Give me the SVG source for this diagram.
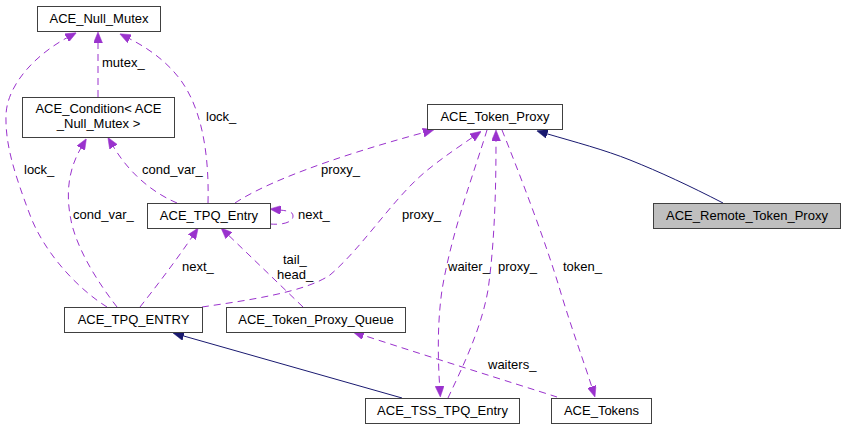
<svg xmlns="http://www.w3.org/2000/svg" width="845" height="429" viewBox="0 0 845 429">
<style>
  .node rect { fill: #ffffff; stroke: #404040; stroke-width: 1; }
  .node.cur rect { fill: #bfbfbf; }
  text { font-family: "Liberation Sans", Arial, sans-serif; font-size: 13px; fill: #000000; }
  .node text { text-anchor: middle; }
  .use { fill: none; stroke: #9a32cd; stroke-width: 1; stroke-dasharray: 7,5; marker-end: url(#ap); }
  .inh { fill: none; stroke: #191970; stroke-width: 1; marker-end: url(#an); }
</style>
<defs>
  <marker id="ap" viewBox="0 0 11 9" refX="1" refY="4.5" markerWidth="11" markerHeight="9" markerUnits="userSpaceOnUse" orient="auto">
    <path d="M0,0 L11,4.5 L0,9 Z" fill="#9a32cd" stroke="#9a32cd" stroke-width="0.5"/>
  </marker>
  <marker id="an" viewBox="0 0 11 9" refX="1" refY="4.5" markerWidth="11" markerHeight="9" markerUnits="userSpaceOnUse" orient="auto">
    <path d="M0,0 L11,4.5 L0,9 Z" fill="#191970" stroke="#191970" stroke-width="0.5"/>
  </marker>
</defs>
<rect x="0" y="0" width="845" height="429" fill="#ffffff"/>

<g id="edges">
  <path class="use" d="M98,97 L98,42"/>
  <path class="use" d="M107,307 C75,287 43,250 30,215 C15,175 5,145 6,115 C7,85 35,55 67.6,37.4"/>
  <path class="use" d="M208,203 C209,165 205,115 182,82 C168,62 148,48 128.7,38.3"/>
  <path class="use" d="M177,203 C158,195 132,178 113,146"/>
  <path class="use" d="M117,307 C100,285 80,255 72,225 C65,195 68,170 81.3,147.3"/>
  <path class="use" d="M270,224 C281,225 293,223 293,216 C293,212 289,211 279.8,210"/>
  <path class="use" d="M140,307 C155,288 175,262 192.5,236.3"/>
  <path class="use" d="M303,307 L228.2,234.9"/>
  <path class="use" d="M235,203 C265,183 330,158 424.3,132.4"/>
  <path class="use" d="M202,307 C250,300 305,292 330,275 C365,245 395,195 430,168 C445,156 460,146 473,137"/>
  <path class="use" d="M487,130 C475,170 452,230 442,290 C437,325 438,360 439.7,387"/>
  <path class="use" d="M448,398 C462,368 481,330 488,290 C495,240 496,185 496,140"/>
  <path class="use" d="M502,130 C520,175 545,240 560,290 C572,330 585,365 592,387.5"/>
  <path class="use" d="M557,397 C510,382 430,357 362.5,335"/>
  <path class="inh" d="M723,203 C690,186 660,172 630,160 C605,150 575,142 546.3,133.6"/>
  <path class="inh" d="M402,398 L182.6,335.7"/>

  <text x="102" y="67">mutex_</text>
  <text x="24" y="174">lock_</text>
  <text x="206" y="121">lock_</text>
  <text x="142" y="174">cond_var_</text>
  <text x="73" y="219">cond_var_</text>
  <text x="298" y="219">next_</text>
  <text x="182" y="271">next_</text>
  <text x="283" y="264">tail_</text>
  <text x="277" y="279">head_</text>
  <text x="321" y="174">proxy_</text>
  <text x="402" y="219">proxy_</text>
  <text x="448" y="271">waiter_</text>
  <text x="498" y="271">proxy_</text>
  <text x="563" y="271">token_</text>
  <text x="488" y="369">waiters_</text>
</g>

<g id="ACE_Null_Mutex" class="node">
  <rect x="37.5" y="6.5" width="123" height="25"/>
  <text x="99" y="23">ACE_Null_Mutex</text>
</g>
<g id="ACE_Condition" class="node">
  <rect x="22.5" y="97.5" width="152" height="40"/>
  <text x="98.5" y="113">ACE_Condition&lt; ACE</text>
  <text x="98.5" y="128">_Null_Mutex &gt;</text>
</g>
<g id="ACE_TPQ_Entry" class="node">
  <rect x="147.5" y="203.5" width="123" height="25"/>
  <text x="209" y="220">ACE_TPQ_Entry</text>
</g>
<g id="ACE_TPQ_ENTRY" class="node">
  <rect x="64.5" y="307.5" width="138" height="25"/>
  <text x="133.5" y="324">ACE_TPQ_ENTRY</text>
</g>
<g id="ACE_Token_Proxy_Queue" class="node">
  <rect x="226.5" y="307.5" width="179" height="25"/>
  <text x="316" y="324">ACE_Token_Proxy_Queue</text>
</g>
<g id="ACE_TSS_TPQ_Entry" class="node">
  <rect x="365.5" y="398.5" width="154" height="25"/>
  <text x="442.5" y="415">ACE_TSS_TPQ_Entry</text>
</g>
<g id="ACE_Token_Proxy" class="node">
  <rect x="427.5" y="104.5" width="135" height="25"/>
  <text x="495" y="121">ACE_Token_Proxy</text>
</g>
<g id="ACE_Remote_Token_Proxy" class="node cur">
  <rect x="653.5" y="203.5" width="187" height="25"/>
  <text x="747" y="220">ACE_Remote_Token_Proxy</text>
</g>
<g id="ACE_Tokens" class="node">
  <rect x="551.5" y="398.5" width="100" height="25"/>
  <text x="601.5" y="415">ACE_Tokens</text>
</g>
</svg>
